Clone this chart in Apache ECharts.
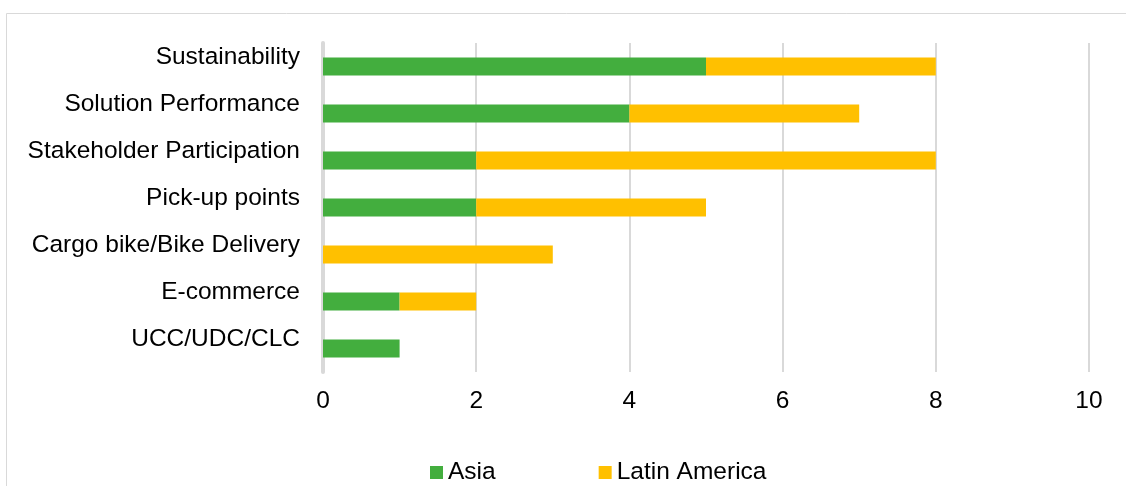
<!DOCTYPE html>
<html><head><meta charset="utf-8">
<script src="https://cdn.jsdelivr.net/npm/echarts@6/dist/echarts.min.js"></script>
<style>html,body{margin:0;padding:0;background:#fff}#c{width:1126px;height:486px}</style>
</head><body><div id="c"></div>
<script>
const categories = ["UCC/UDC/CLC","E-commerce","Cargo bike/Bike Delivery","Pick-up points","Stakeholder Participation","Solution Performance","Sustainability"];
const asia = [1,1,0,2,2,4,5];
const latinAmerica = [0,1,3,3,6,3,3];
const xTicks = [0,2,4,6,8,10];

const chart = echarts.init(document.getElementById('c'), null, {renderer:'canvas'});
const font = '"Liberation Sans", Arial, sans-serif';
chart.setOption({
  animation:false,
  graphic:[{type:'polyline',shape:{points:[[6.5,486],[6.5,13.5],[1126,13.5]]},style:{stroke:'#d9d9d9',lineWidth:1,fill:null}}],
  grid:{left:323,right:37,top:43,bottom:114},
  legend:{left:425,top:455,itemWidth:13,itemHeight:13,itemGap:103,icon:'rect',
    textStyle:{fontFamily:font,fontSize:24.5,color:'#000'},data:['Asia','Latin America']},
  xAxis:{type:'value',min:0,max:10,interval:2,
    axisLine:{show:false},axisTick:{show:false},
    axisLabel:{fontFamily:font,fontSize:24.5,color:'#000',margin:17,formatter:v=>xTicks.includes(v)?String(v):''},
    splitLine:{lineStyle:{color:'#d9d9d9',width:2}}},
  yAxis:{type:'category',data:categories,
    axisLine:{lineStyle:{color:'#d9d9d9',width:4}},axisTick:{show:false},
    axisLabel:{fontFamily:font,fontSize:24.5,color:'#000',margin:23,verticalAlign:'bottom',lineHeight:18}},
  series:[
    {name:'Asia',type:'bar',stack:'t',data:asia,barWidth:18,itemStyle:{color:'#43ae3e'}},
    {name:'Latin America',type:'bar',stack:'t',data:latinAmerica,barWidth:18,itemStyle:{color:'#ffc000'}}
  ]
});
</script></body></html>
